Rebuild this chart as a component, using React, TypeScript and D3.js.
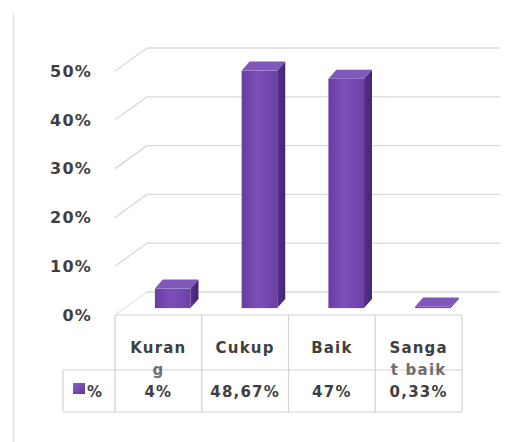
import React from "react";
import * as d3 from "d3";

const categories = ["Kurang", "Cukup", "Baik", "Sangat baik"];
const categoryLines = [["Kuran", "g"], ["Cukup"], ["Baik"], ["Sanga", "t baik"]];
const values = [4, 48.67, 47, 0.33];
const valueLabels = ["4%", "48,67%", "47%", "0,33%"];
const yTicks = [0, 10, 20, 30, 40, 50];
const seriesName = "%";

const W = 528;
const H = 442;
const FONT = "'DejaVu Sans', Verdana, sans-serif";
const TXT = "#3f3f3f";
const GRID = "#d9d9d9";
const LINE = "#d2d2d2";

export default function App() {
  const x = d3.scaleBand<string>().domain(categories).range([115, 462]).padding(0);
  const y = d3.scaleLinear().domain([0, 50]).range([315, 71]);
  const bw = x.bandwidth();
  // 3D projection offsets
  const wallDx = 32;
  const wallDy = -23;
  const barDepthFrac = 0.3; // bar front plane depth
  const bDx = 8;
  const bDy = -9;
  const fShiftX = barDepthFrac * wallDx;
  const fShiftY = barDepthFrac * wallDy;

  const wallRight = 500;
  const tableTop = y(0);
  const rowSplit = 370;
  const tableBottom = 412;
  const legendLeft = 63;

  return (
    <svg
      width={W}
      height={H}
      style={{ position: "absolute", left: 0, top: 0, background: "#fff" }}
      fontFamily={FONT}
    >
      <defs>
        <linearGradient id="front" x1="0" x2="1" y1="0" y2="0">
          <stop offset="0" stopColor="#6a3da4" />
          <stop offset="0.45" stopColor="#7c50ba" />
          <stop offset="1" stopColor="#6b40a6" />
        </linearGradient>
        <linearGradient id="side" x1="0" x2="1" y1="0" y2="0">
          <stop offset="0" stopColor="#55318a" />
          <stop offset="1" stopColor="#432672" />
        </linearGradient>
        <linearGradient id="key" x1="0" x2="1" y1="0" y2="1">
          <stop offset="0" stopColor="#8a62c6" />
          <stop offset="1" stopColor="#5e3696" />
        </linearGradient>
      </defs>

      {/* outer left border */}
      <line x1={13.5} x2={13.5} y1={13} y2={442} stroke="#e2e2e2" strokeWidth={1.5} />

      {/* gridlines: side wall diagonals + back wall */}
      {yTicks.map((t) => {
        const yf = y(t);
        const yb = yf + wallDy;
        return (
          <g key={t}>
            <line x1={115} y1={yf} x2={115 + wallDx} y2={yb} stroke={t === 0 ? "#e4e8d8" : GRID} strokeWidth={1.3} />
            <line x1={115 + wallDx} y1={yb} x2={wallRight} y2={yb} stroke={GRID} strokeWidth={1.3} />
          </g>
        );
      })}

      {/* y-axis labels */}
      {yTicks.map((t) => (
        <text
          key={"l" + t}
          x={92}
          y={y(t)}
          dy="0.36em"
          textAnchor="end"
          fontSize={16}
          fontWeight="bold"
          letterSpacing={1.2}
          fill={TXT}
        >
          {t + "%"}
        </text>
      ))}

      {/* bars */}
      {categories.map((c, i) => {
        const x0 = (x(c) as number) + bw * 0.46 - fShiftX + fShiftX;
        const w = bw * 0.41;
        const yb = y(0) + fShiftY;
        const yt = y(values[i]) + fShiftY;
        const x1 = x0 + w;
        const top = `M${x0},${yt} L${x0 + bDx},${yt + bDy} L${x1 + bDx},${yt + bDy} L${x1},${yt} Z`;
        const side = `M${x1},${yt} L${x1 + bDx},${yt + bDy} L${x1 + bDx},${yb + bDy} L${x1},${yb} Z`;
        return (
          <g key={c}>
            <rect x={x0} y={yt} width={w} height={Math.max(0, yb - yt)} fill="url(#front)" />
            <path d={side} fill="url(#side)" />
            <path d={top} fill="#7f58bb" />
          </g>
        );
      })}

      {/* data table */}
      <g stroke={LINE} strokeWidth={1.2} fill="none">
        <line x1={115} x2={462} y1={tableTop} y2={tableTop} />
        <line x1={legendLeft} x2={462} y1={rowSplit} y2={rowSplit} />
        <line x1={legendLeft} x2={462} y1={tableBottom} y2={tableBottom} />
        <line x1={legendLeft} x2={legendLeft} y1={rowSplit} y2={tableBottom} />
        {[...categories.map((c) => x(c) as number), 462].map((xx, i) => (
          <line key={i} x1={xx} x2={xx} y1={tableTop} y2={tableBottom} />
        ))}
      </g>

      {/* category labels */}
      {categories.map((c, i) => {
        const cx = (x(c) as number) + bw / 2;
        return (
          <g key={"c" + c}>
            {categoryLines[i].map((ln, j) => (
              <text
                key={j}
                x={cx}
                y={353 + j * 22}
                textAnchor="middle"
                fontSize={15}
                fontWeight="bold"
                letterSpacing={1.2}
                fill={TXT}
                opacity={j === 0 ? 1 : 0.75}
              >
                {ln}
              </text>
            ))}
          </g>
        );
      })}

      {/* legend key */}
      <rect x={73} y={383} width={12} height={11} fill="url(#key)" />
      <text x={87} y={397} fontSize={15} fontWeight="bold" fill={TXT}>
        {seriesName}
      </text>

      {/* value labels */}
      {categories.map((c, i) => (
        <text
          key={"v" + c}
          x={(x(c) as number) + bw / 2}
          y={397}
          textAnchor="middle"
          fontSize={15}
          fontWeight="bold"
          letterSpacing={1.2}
          fill={TXT}
        >
          {valueLabels[i]}
        </text>
      ))}
    </svg>
  );
}
